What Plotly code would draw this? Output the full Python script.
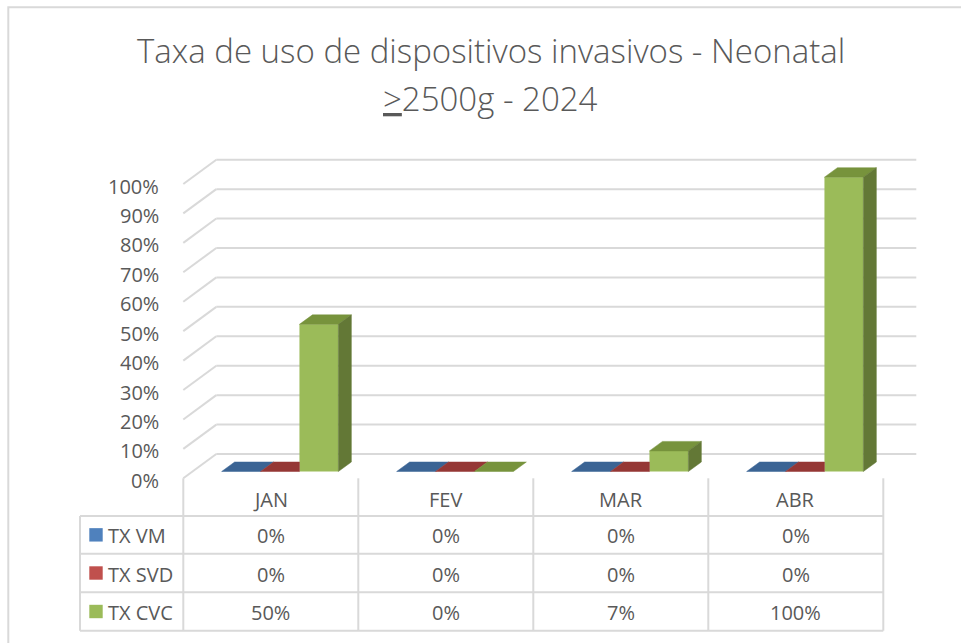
import plotly.graph_objects as go

# ---------------- data ----------------
categories = ["JAN", "FEV", "MAR", "ABR"]
series_names = ["TX VM", "TX SVD", "TX CVC"]
tx_vm = [0, 0, 0, 0]
tx_svd = [0, 0, 0, 0]
tx_cvc = [50, 0, 7, 100]
y_ticks = [0, 10, 20, 30, 40, 50, 60, 70, 80, 90, 100]
title_line1 = "Taxa de uso de dispositivos invasivos - Neonatal"
title_line2 = "<u>&gt;</u>2500g - 2024"

series_values = [tx_vm, tx_svd, tx_cvc]
front_colors = ["#4F81BD", "#C0504D", "#9BBB59"]
top_colors = ["#3B6494", "#953735", "#77933C"]
side_colors = ["#2F5077", "#772C2A", "#637836"]

# ---------------- geometry (pixel layout) ----------------
W, H = 961, 643
X0, SX = 183.3, 175.0      # front-plane x origin (px) and px per category
Y0, SY = 478.3, 2.943      # front-plane 0% (px) and px per percent
WALL_DX, WALL_DY = 33 / SX, 24.3 / SY
BAR_DX0, BAR_DY0 = 9.2 / SX, 6.8 / SY
BAR_DDX, BAR_DDY = 13 / SX, 9.5 / SY
BAR_W = 38.9 / SX

TXT = "#595959"
GRID = "#D9D9D9"
FONT = "Open Sans"


def px(x):
    return x / W


def py(y):
    return 1 - y / H


fig = go.Figure()

# front faces as bars
n = len(series_values)
for k, (name, vals) in enumerate(zip(series_names, series_values)):
    off = (k - (n - 1) / 2) * BAR_W
    fig.add_trace(go.Bar(
        x=[i + 0.5 + off + BAR_DX0 for i in range(len(categories))],
        y=vals,
        base=BAR_DY0,
        width=BAR_W,
        marker=dict(color=front_colors[k], line=dict(width=0)),
        name=name,
        showlegend=False,
        hoverinfo="skip",
    ))

# top and side faces (3D look)
for i in range(len(categories)):
    for k, vals in enumerate(series_values):
        v = vals[i]
        off = (k - (n - 1) / 2) * BAR_W
        xl = i + 0.5 + off + BAR_DX0 - BAR_W / 2
        xr = xl + BAR_W
        yf = BAR_DY0 + v
        yb = yf + BAR_DDY
        nxt = series_values[k + 1][i] if k + 1 < n else None
        if nxt is not None and nxt > v:
            tx = [xl, xr, xr, xl + BAR_DDX, xl]
            ty = [yf, yf, yb, yb, yf]
        else:
            tx = [xl, xr, xr + BAR_DDX, xl + BAR_DDX, xl]
            ty = [yf, yf, yb, yb, yf]
        fig.add_trace(go.Scatter(
            x=tx, y=ty, mode="lines", fill="toself",
            fillcolor=top_colors[k], line=dict(color=top_colors[k], width=0.5),
            showlegend=False, hoverinfo="skip"))
        if v > 0 and (nxt is None or nxt < v):
            sx = [xr, xr, xr + BAR_DDX, xr + BAR_DDX, xr]
            sy = [BAR_DY0, yf, yb, BAR_DY0 + BAR_DDY, BAR_DY0]
            fig.add_trace(go.Scatter(
                x=sx, y=sy, mode="lines", fill="toself",
                fillcolor=side_colors[k], line=dict(color=side_colors[k], width=0.5),
                showlegend=False, hoverinfo="skip"))

shapes = []
annotations = []
ncat = len(categories)

# back-wall gridlines and left-wall diagonals
for t in y_ticks:
    shapes.append(dict(type="line", xref="x", yref="y", layer="below",
                       x0=WALL_DX, x1=ncat + WALL_DX, y0=t + WALL_DY, y1=t + WALL_DY,
                       line=dict(color=GRID, width=2)))
    shapes.append(dict(type="line", xref="x", yref="y", layer="below",
                       x0=0, x1=WALL_DX, y0=t, y1=t + WALL_DY,
                       line=dict(color=GRID, width=2)))
    annotations.append(dict(xref="paper", yref="paper", x=px(161), y=py(Y0 - t * SY + 2),
                            xanchor="right", yanchor="middle", showarrow=False,
                            text=f"{t}%", font=dict(family=FONT, size=20, color=TXT)))

# data table
row_lines = [516, 553.7, 592.3, 630.7]
col_x = [X0 + SX * i for i in range(ncat + 1)]
left_x = 80
for yl in row_lines:
    shapes.append(dict(type="line", xref="paper", yref="paper",
                       x0=px(left_x), x1=px(col_x[-1]), y0=py(yl), y1=py(yl),
                       line=dict(color=GRID, width=2)))
for xc in col_x:
    shapes.append(dict(type="line", xref="paper", yref="paper",
                       x0=px(xc), x1=px(xc), y0=py(Y0), y1=py(row_lines[-1]),
                       line=dict(color=GRID, width=2)))
shapes.append(dict(type="line", xref="paper", yref="paper",
                   x0=px(left_x), x1=px(left_x), y0=py(row_lines[0]), y1=py(row_lines[-1]),
                   line=dict(color=GRID, width=2)))

for i, c in enumerate(categories):
    cx = (col_x[i] + col_x[i + 1]) / 2
    annotations.append(dict(xref="paper", yref="paper", x=px(cx), y=py((Y0 + row_lines[0]) / 2 + 2),
                            xanchor="center", yanchor="middle", showarrow=False,
                            text=c, font=dict(family=FONT, size=20, color=TXT)))
    for k, vals in enumerate(series_values):
        ry = (row_lines[k] + row_lines[k + 1]) / 2 + 1
        annotations.append(dict(xref="paper", yref="paper", x=px(cx), y=py(ry),
                                xanchor="center", yanchor="middle", showarrow=False,
                                text=f"{vals[i]:.0f}%", font=dict(family=FONT, size=20, color=TXT)))

for k, name in enumerate(series_names):
    ry = (row_lines[k] + row_lines[k + 1]) / 2
    shapes.append(dict(type="rect", xref="paper", yref="paper",
                       x0=px(89.3), x1=px(102.7), y0=py(ry - 6.7), y1=py(ry + 6.7),
                       fillcolor=front_colors[k], line=dict(width=0)))
    annotations.append(dict(xref="paper", yref="paper", x=px(106), y=py(ry + 1),
                            xanchor="left", yanchor="middle", showarrow=False,
                            text=name, font=dict(family=FONT, size=20, color=TXT)))

# chart border
shapes.append(dict(type="rect", xref="paper", yref="paper",
                   x0=px(8.3), x1=px(1000), y0=py(7.3), y1=py(700),
                   line=dict(color=GRID, width=2), fillcolor="rgba(0,0,0,0)"))

# title
annotations.append(dict(xref="paper", yref="paper", x=px(491), y=py(51),
                        xanchor="center", yanchor="middle", showarrow=False,
                        text=title_line1, font=dict(family=FONT, size=33, color=TXT, weight=300)))
annotations.append(dict(xref="paper", yref="paper", x=px(490), y=py(98),
                        xanchor="center", yanchor="middle", showarrow=False,
                        text=title_line2, font=dict(family=FONT, size=33, color=TXT, weight=300)))

fig.update_layout(
    width=W, height=H,
    margin=dict(l=0, r=0, t=0, b=0),
    paper_bgcolor="white", plot_bgcolor="white",
    barmode="overlay",
    xaxis=dict(range=[(0 - X0) / SX, (W - X0) / SX], visible=False, fixedrange=True),
    yaxis=dict(range=[(Y0 - H) / SY, Y0 / SY], visible=False, fixedrange=True),
    shapes=shapes,
    annotations=annotations,
    showlegend=False,
)

fig.write_html("out.html",
               config={"displayModeBar": False, "staticPlot": True},
               post_script="document.body.style.margin='0';document.body.style.overflow='hidden';")
